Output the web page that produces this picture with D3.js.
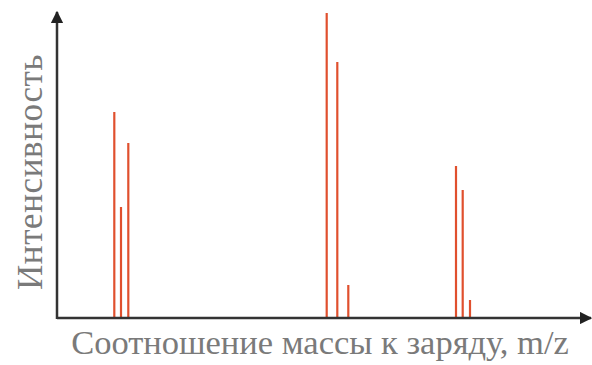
<!DOCTYPE html>
<html><head><meta charset="utf-8">
<script src="https://cdn.jsdelivr.net/npm/d3@7"></script>
</head><body style="margin:0;background:#fff">
<svg id="c" width="592" height="365" style="font-family:'Liberation Serif','Times New Roman',Tinos,serif"></svg>
<script>
const mz = [114.3, 121, 128.3, 326.7, 337.3, 348.3, 456, 462.7, 470];
const intensity = [206, 111, 175, 305, 256, 33, 152, 128, 18];
const xLabel = "Соотношение массы к заряду, m/z";
const yLabel = "Интенсивность";

const svg = d3.select("#c");
const x0 = 57, y0 = 318;
const x = d3.scaleLinear().domain([0, 592]).range([0, 592]);
const y = d3.scaleLinear().domain([0, 318]).range([y0, 0]);

svg.append("defs").append("marker").attr("id","ar").attr("viewBox","0 0 10 10")
  .attr("refX",9).attr("refY",5).attr("markerWidth",5).attr("markerHeight",5)
  .attr("orient","auto").attr("markerUnits","strokeWidth")
  .append("path").attr("d","M0,0L10,5L0,10z").attr("fill","#222");

svg.selectAll("line.pk").data(mz).join("line").attr("class","pk")
  .attr("x1", d=>x(d)).attr("x2", d=>x(d))
  .attr("y1", y(0)).attr("y2", (d,i)=>y(intensity[i]))
  .attr("stroke","#e0502e").attr("stroke-width",2.2);

svg.append("line").attr("x1",x0).attr("y1",y0).attr("x2",591).attr("y2",y0)
  .attr("stroke","#333").attr("stroke-width",2.5).attr("marker-end","url(#ar)");
svg.append("line").attr("x1",x0).attr("y1",y0+1).attr("x2",x0).attr("y2",12)
  .attr("stroke","#333").attr("stroke-width",2.5).attr("marker-end","url(#ar)");

svg.append("text").attr("x",320).attr("y",354).attr("text-anchor","middle")
  .style("font-family",'"Liberation Serif"').style("font-size","34.5px").attr("fill","#7a7a7a").text(xLabel);
svg.append("text").attr("transform","translate(42,172) rotate(-90)").attr("text-anchor","middle")
  .style("font-family",'"Liberation Serif"').style("font-size","35px").style("letter-spacing","0.6px")
  .attr("fill","#7a7a7a").text(yLabel);
</script>
</body></html>
